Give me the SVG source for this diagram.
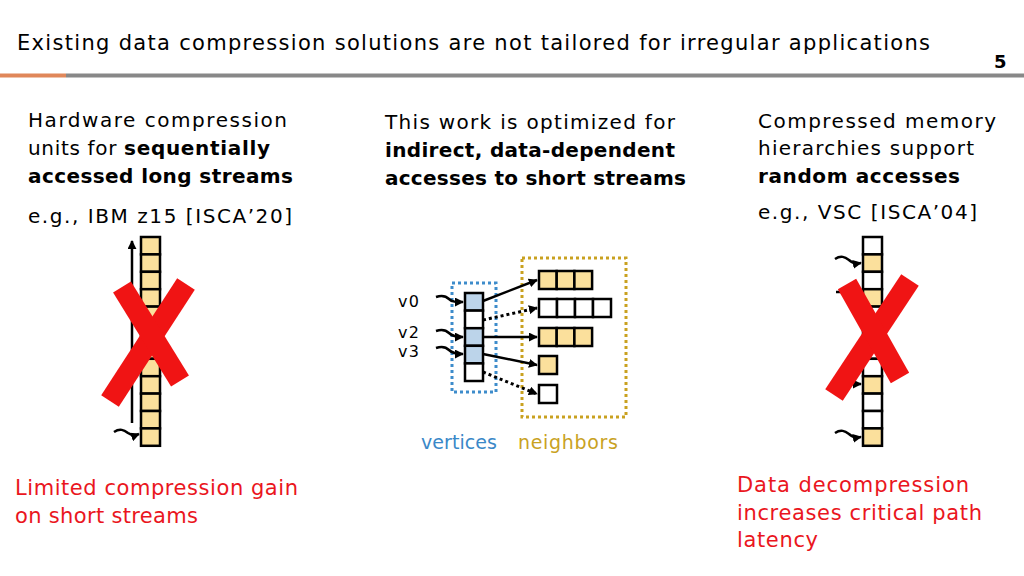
<svg xmlns="http://www.w3.org/2000/svg" width="1024" height="576" viewBox="0 0 1024 576">
<defs>
<style>
text{font-family:"DejaVu Sans","Liberation Sans",sans-serif;fill:#000}
.t{font-size:20px}
.b{font-weight:bold}
.red{fill:#ea1520;font-size:21px}
.v{font-size:16px}
.y{fill:#fbe09c;stroke:#000;stroke-width:2.5}
.w{fill:#fff;stroke:#000;stroke-width:2.5}
.bl{fill:#bcd4ea;stroke:#000;stroke-width:2.5}
.ln{fill:none;stroke:#000;stroke-width:2.5}
.dt{fill:none;stroke:#000;stroke-width:3;stroke-dasharray:3 3}
.x{stroke:#f01414;stroke-width:21;stroke-linecap:butt}
</style>
<marker id="ah" viewBox="0 0 10 10" refX="9" refY="5" markerWidth="9" markerHeight="9" markerUnits="userSpaceOnUse" orient="auto">
<path d="M0,0 L10,5 L0,10 z" fill="#000"/>
</marker>
</defs>
<rect width="1024" height="576" fill="#fff"/>

<g id="header">
<text x="17" y="50" style="font-size:21px" textLength="913">Existing data compression solutions are not tailored for irregular applications</text>
<text x="994" y="68" class="b" style="font-size:18px">5</text>
<rect x="0" y="73.5" width="66" height="4" fill="#e0875a"/>
<rect x="66" y="73.5" width="958" height="4" fill="#888888"/>
</g>

<g id="left-text">
<text x="28" y="127" class="t" textLength="259">Hardware compression</text>
<text x="28" y="155" class="t" textLength="242">units for <tspan class="b">sequentially</tspan></text>
<text x="28" y="183" class="t b" textLength="265">accessed long streams</text>
<text x="28" y="223" class="t" textLength="264">e.g., IBM z15 [ISCA’20]</text>
</g>

<g id="mid-text">
<text x="385" y="129" class="t" textLength="290">This work is optimized for</text>
<text x="385" y="157" class="t b" textLength="290">indirect, data-dependent</text>
<text x="385" y="185" class="t b" textLength="301">accesses to short streams</text>
</g>

<g id="right-text">
<text x="758" y="128" class="t" textLength="238">Compressed memory</text>
<text x="758" y="155" class="t" textLength="216">hierarchies support</text>
<text x="758" y="183" class="t b" textLength="202">random accesses</text>
<text x="758" y="219" class="t" textLength="219">e.g., VSC [ISCA’04]</text>
</g>

<g id="left-column">
<rect class="y" x="141" y="237" width="19" height="17.4"/>
<rect class="y" x="141" y="254.4" width="19" height="17.4"/>
<rect class="y" x="141" y="271.8" width="19" height="17.4"/>
<rect class="y" x="141" y="289.2" width="19" height="17.4"/>
<rect class="y" x="141" y="306.6" width="19" height="17.4"/>
<rect class="y" x="141" y="324" width="19" height="17.4"/>
<rect class="y" x="141" y="341.4" width="19" height="17.4"/>
<rect class="y" x="141" y="358.8" width="19" height="17.4"/>
<rect class="y" x="141" y="376.2" width="19" height="17.4"/>
<rect class="y" x="141" y="393.6" width="19" height="17.4"/>
<rect class="y" x="141" y="411" width="19" height="17.4"/>
<rect class="y" x="141" y="428.4" width="19" height="17.4"/>
</g>

<g id="right-column">
<rect class="w" x="863" y="237" width="19" height="17.4"/>
<rect class="y" x="863" y="254.4" width="19" height="17.4"/>
<rect class="w" x="863" y="271.8" width="19" height="17.4"/>
<rect class="y" x="863" y="289.2" width="19" height="17.4"/>
<rect class="w" x="863" y="306.6" width="19" height="17.4"/>
<rect class="w" x="863" y="324" width="19" height="17.4"/>
<rect class="w" x="863" y="341.4" width="19" height="17.4"/>
<rect class="w" x="863" y="358.8" width="19" height="17.4"/>
<rect class="y" x="863" y="376.2" width="19" height="17.4"/>
<rect class="w" x="863" y="393.6" width="19" height="17.4"/>
<rect class="w" x="863" y="411" width="19" height="17.4"/>
<rect class="y" x="863" y="428.4" width="19" height="17.4"/>
</g>

<g id="vertices">
<rect x="452" y="283" width="44" height="109" fill="none" stroke="#3d8ccb" stroke-width="3" stroke-dasharray="3 3"/>
<rect class="bl" x="465" y="293" width="18" height="17.6"/>
<rect class="w" x="465" y="310.6" width="18" height="17.6"/>
<rect class="bl" x="465" y="328.2" width="18" height="17.6"/>
<rect class="bl" x="465" y="345.8" width="18" height="17.6"/>
<rect class="w" x="465" y="363.4" width="18" height="17.6"/>
<text x="398" y="307" class="v" textLength="21">v0</text>
<text x="398" y="338" class="v" textLength="21">v2</text>
<text x="398" y="357" class="v" textLength="21">v3</text>
<text x="421" y="449" style="font-size:19px;fill:#3a88c8" textLength="76">vertices</text>
</g>

<g id="neighbors">
<rect x="522" y="258" width="104" height="159" fill="none" stroke="#c9a120" stroke-width="3" stroke-dasharray="3 3"/>
<rect class="y" x="539" y="271" width="17.7" height="18"/>
<rect class="y" x="556.7" y="271" width="17.7" height="18"/>
<rect class="y" x="574.4" y="271" width="17.7" height="18"/>
<rect class="w" x="539" y="299" width="18" height="18"/>
<rect class="w" x="557" y="299" width="18" height="18"/>
<rect class="w" x="575" y="299" width="18" height="18"/>
<rect class="w" x="593" y="299" width="18" height="18"/>
<rect class="y" x="539" y="328" width="17.7" height="18"/>
<rect class="y" x="556.7" y="328" width="17.7" height="18"/>
<rect class="y" x="574.4" y="328" width="17.7" height="18"/>
<rect class="y" x="539" y="356" width="18" height="18"/>
<rect class="w" x="539" y="385" width="18" height="18"/>
<text x="518" y="449" style="font-size:19px;fill:#c9a21f" textLength="100">neighbors</text>
</g>

<g id="connectors">
<line class="ln" x1="132" y1="423" x2="132" y2="241" marker-end="url(#ah)"/>
<path class="ln" d="M114,432 C120,428 124,430 128,433 C131,435 134,436 139,434" marker-end="url(#ah)"/>
<path class="ln" d="M835,259 C841,255 845,257 849,260 C852,263 855,264 861,263" marker-end="url(#ah)"/>
<line class="ln" x1="836" y1="292" x2="861" y2="292" marker-end="url(#ah)"/>
<line class="ln" x1="846" y1="384" x2="861" y2="384" marker-end="url(#ah)"/>
<path class="ln" d="M835,433 C841,429 845,431 849,434 C852,437 855,438 861,437" marker-end="url(#ah)"/>
<path class="ln" d="M436,297 C442,295 446,296 449,299 C452,302 456,302 463,302" marker-end="url(#ah)"/>
<path class="ln" d="M436,331 C442,329 446,330 449,333 C452,336 456,337 463,337" marker-end="url(#ah)"/>
<path class="ln" d="M436,348 C442,346 446,347 449,350 C452,353 456,354 463,354" marker-end="url(#ah)"/>
<line class="ln" x1="483" y1="301" x2="537" y2="280" marker-end="url(#ah)"/>
<line class="dt" x1="483" y1="320" x2="537" y2="308" marker-end="url(#ah)"/>
<line class="ln" x1="483" y1="337" x2="537" y2="337" marker-end="url(#ah)"/>
<line class="ln" x1="483" y1="354" x2="537" y2="365" marker-end="url(#ah)"/>
<line class="dt" x1="483" y1="372" x2="537" y2="394" marker-end="url(#ah)"/>
</g>

<g id="left-cross">
<line class="x" x1="110" y1="401" x2="186" y2="284"/>
<line class="x" x1="122" y1="287" x2="180" y2="381"/>
</g>
<g id="right-cross">
<line class="x" x1="834" y1="395" x2="910" y2="280"/>
<line class="x" x1="847" y1="284" x2="900" y2="378"/>
</g>

<g id="bottom-text">
<text x="15" y="495" class="red" textLength="283">Limited compression gain</text>
<text x="15" y="523" class="red" textLength="183">on short streams</text>
<text x="737" y="492" class="red" textLength="232">Data decompression</text>
<text x="737" y="520" class="red" textLength="245">increases critical path</text>
<text x="737" y="547" class="red" textLength="81">latency</text>
</g>
</svg>
